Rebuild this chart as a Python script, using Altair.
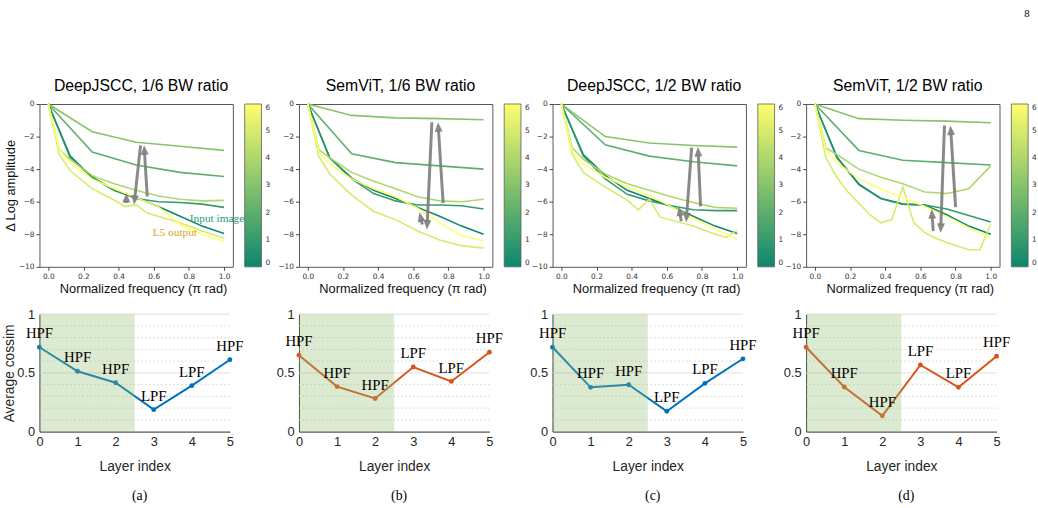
import math

import altair as alt
import pandas as pd

# ---------------------------------------------------------------------------
# Δ log-amplitude spectra: one curve per layer (0 = input image ... 6 = last)
# ---------------------------------------------------------------------------
F_SPARSE = [0, 0.25, 0.5, 0.75, 1.0]
F_COARSE = [0, 0.125, 0.25, 0.375, 0.5, 0.625, 0.75, 0.875, 1.0]
F_FINE = [0, 0.0625, 0.125, 0.25, 0.375, 0.5, 0.625, 0.75, 0.875, 1.0]

# (a) DeepJSCC, 1/6 BW ratio
A0 = [0, -3.2, -4.5, -5.3, -5.75, -6.3, -6.9, -7.5, -7.95]
A1 = [0, -3.3, -4.5, -5.3, -5.8, -6.0, -6.05, -6.15, -6.35]
A2 = [0, -2.95, -3.75, -4.2, -4.45]
A3 = [0, -1.7, -2.35, -2.6, -2.85]
A4 = [0, -2.8, -3.4, -4.4, -4.9, -5.3, -5.65, -5.85, -5.95, -5.92]
A5_F = [0, 0.0625, 0.125, 0.25, 0.375, 0.4375, 0.5, 0.5625, 0.625, 0.75, 0.875, 1.0]
A5 = [0, -3.1, -4.1, -5.2, -5.9, -6.3, -6.2, -6.7, -6.9, -7.3, -7.8, -8.25]
A6 = [0, -2.8, -3.6, -4.6, -5.2, -5.75, -6.3, -7.4, -8.0, -8.45]

# (b) SemViT, 1/6 BW ratio
B0 = [0, -3.3, -4.55, -5.3, -5.8, -6.35, -6.9, -7.5, -8.0]
B1 = [0, -3.3, -4.6, -5.5, -5.95, -6.2, -6.2, -6.25, -6.45]
B2 = [0, -3.05, -3.6, -3.8, -4.0]
B3 = [0, -0.7, -0.85, -0.9, -0.97]
B4 = [0, -2.8, -3.3, -4.2, -4.75, -5.2, -5.7, -5.95, -6.0, -5.85]
B5 = [0, -3.2, -4.3, -5.6, -6.6, -7.1, -7.8, -8.35, -8.7, -8.85]
B6 = [0, -2.9, -3.7, -4.6, -5.2, -5.7, -6.4, -7.3, -8.1, -8.4]

# (c) DeepJSCC, 1/2 BW ratio
C0 = [0, -3.1, -4.4, -5.3, -5.8, -6.3, -6.9, -7.5, -7.95]
C1 = [0, -3.2, -4.6, -5.55, -5.95, -6.25, -6.5, -6.55, -6.55]
C2 = [0, -2.5, -3.2, -3.55, -3.8]
C3 = [0, -2.0, -2.4, -2.55, -2.65]
C4 = [0, -2.7, -3.4, -4.3, -4.9, -5.3, -5.7, -6.05, -6.35, -6.4]
C5_F = [0, 0.0625, 0.125, 0.25, 0.375, 0.4375, 0.5, 0.5625, 0.75, 0.875, 0.9375, 1.0]
C5 = [0, -3.1, -4.2, -5.1, -5.9, -6.5, -5.85, -6.95, -7.5, -8.0, -8.2, -7.75]
C6 = [0, -2.9, -3.7, -4.5, -5.1, -5.6, -6.3, -7.0, -7.7, -8.3]

# (d) SemViT, 1/2 BW ratio
D0 = [0, -3.25, -4.95, -5.8, -6.15, -6.2, -6.8, -7.5, -8.0]
D1 = [0, -3.3, -4.9, -5.8, -6.15, -6.2, -6.45, -6.85, -7.25]
D2 = [0, -2.85, -3.45, -3.6, -3.75]
D3 = [0, -0.9, -1.0, -1.05, -1.15]
D4 = [0, -2.7, -3.1, -4.0, -4.5, -4.9, -5.4, -5.5, -5.2, -3.8]
D5_F = [0, 0.0625, 0.125, 0.1875, 0.25, 0.3125, 0.375, 0.4375, 0.5,
        0.5625, 0.625, 0.6875, 0.75, 0.875, 0.9375, 1.0]
D5 = [0, -3.3, -4.5, -5.4, -6.1, -6.8, -7.3, -7.1, -5.1,
      -7.3, -7.9, -8.25, -8.5, -8.95, -8.95, -7.4]
D6 = [0, -2.8, -3.6, -4.6, -5.2, -5.75, -6.3, -6.9, -7.6, -8.25]

# Gray arrows: (tail freq, tail value, tip freq, tip value)
ARROWS_A = [(0.444, -6.08, 0.444, -5.47), (0.525, -2.54, 0.488, -6.19), (0.563, -5.68, 0.545, -2.54)]
ARROWS_B = [(0.652, -7.40, 0.635, -6.65), (0.706, -1.12, 0.678, -7.71), (0.770, -6.09, 0.741, -1.12)]
ARROWS_C = [(0.682, -7.20, 0.669, -6.29), (0.741, -2.68, 0.710, -7.26), (0.792, -6.29, 0.777, -2.64)]
ARROWS_D = [(0.673, -7.81, 0.664, -6.45), (0.737, -1.32, 0.715, -7.91), (0.800, -6.33, 0.771, -1.32)]

# In-plot annotations of panel (a): (text, freq, value, colour)
NOTES_A = [("Input image", 0.96, -7.04, "#2a9a72"), ("L5 output", 0.72, -7.95, "#d9a41e")]

TITLES = ["DeepJSCC, 1/6 BW ratio", "SemViT, 1/6 BW ratio",
          "DeepJSCC, 1/2 BW ratio", "SemViT, 1/2 BW ratio"]
X_TICKS = [0, 0.2, 0.4, 0.6, 0.8, 1.0]
Y_TICKS = [-10, -8, -6, -4, -2, 0]
COLORBAR_TICKS = [0, 1, 2, 3, 4, 5, 6]

# ---------------------------------------------------------------------------
# Average cosine similarity per layer
# ---------------------------------------------------------------------------
LAYERS = [0, 1, 2, 3, 4, 5]
COS_A = [0.718, 0.514, 0.416, 0.187, 0.391, 0.612]
COS_B = [0.651, 0.383, 0.282, 0.550, 0.427, 0.676]
COS_C = [0.718, 0.377, 0.399, 0.173, 0.411, 0.620]
COS_D = [0.718, 0.380, 0.134, 0.567, 0.377, 0.642]
TAGS = ["HPF", "HPF", "HPF", "LPF", "LPF", "HPF"]
CAPTIONS = ["(a)", "(b)", "(c)", "(d)"]
BLUE, ORANGE = "#0072BD", "#D95319"
LINE_COLORS = [BLUE, ORANGE, BLUE, ORANGE]
SHADE_SPAN = [0, 2.5]
MAJOR_GRID = [0.5, 1.0]
MINOR_GRID = [0.1, 0.2, 0.3, 0.4, 0.6, 0.7, 0.8, 0.9]
COS_TICKS = [0, 0.5, 1]

# ---------------------------------------------------------------------------
TOP_W, TOP_H = 196, 165
BOT_W, BOT_H = 193, 119
X_DOM = [-0.05, 1.05]
Y_DOM = [-10, 0]
SANS = "Liberation Sans"
SERIF = "Liberation Serif"
ARROW_GRAY = "#7c7c7c"
HEAD_PATH = "M0,0L-1,2.4L1,2.4Z"
HEAD_SIZE = 64

SUMMER = alt.Scale(domain=[0, 6], range=["#008066", "#ffff66"], interpolate="rgb")


def top_x(field):
    axis = alt.Axis(values=X_TICKS, format=".1f", title="Normalized frequency (π rad)",
                    grid=False, domain=False, tickSize=3.5, tickColor="#444",
                    labelFont="DejaVu Sans", labelFontSize=7.5, labelColor="#333",
                    labelPadding=2, labelFlush=False, labelOverlap=False,
                    titleFont=SANS, titleFontSize=13, titleFontWeight="normal",
                    titleColor="#111", titlePadding=3, titleX=TOP_W / 2 + 7)
    return alt.X(field, type="quantitative",
                 scale=alt.Scale(domain=X_DOM, nice=False, zero=False), axis=axis)


def top_y(field, y_title):
    axis = alt.Axis(values=Y_TICKS, format="d", title=y_title, grid=False, domain=False,
                    tickSize=3.5, tickColor="#444", labelFont="DejaVu Sans",
                    labelFontSize=7.5, labelColor="#333", labelPadding=2, labelFlush=False,
                    labelOverlap=False, titleFont=SANS, titleFontSize=13,
                    titleFontWeight="normal", titleColor="#111", titlePadding=1)
    return alt.Y(field, type="quantitative",
                 scale=alt.Scale(domain=Y_DOM, nice=False, zero=False), axis=axis)


def bottom_x(field):
    axis = alt.Axis(values=LAYERS, format="d", title="Layer index", grid=False,
                    domainColor="#262626", tickSize=0, labelPadding=4,
                    labelFont=SANS, labelFontSize=13, labelColor="#262626",
                    labelFlush=False, labelOverlap=False, titleFont=SANS,
                    titleFontSize=14, titleFontWeight="normal",
                    titleColor="#262626", titlePadding=11)
    return alt.X(field, type="quantitative",
                 scale=alt.Scale(domain=[0, 5], nice=False, zero=False), axis=axis)


def bottom_y(field, y_title):
    axis = alt.Axis(values=COS_TICKS, format="~g", title=y_title, grid=False,
                    domainColor="#262626", tickSize=0, labelPadding=5, labelFont=SANS,
                    labelFontSize=13, labelColor="#262626", labelFlush=False,
                    labelOverlap=False, titleFont=SANS, titleFontSize=14,
                    titleFontWeight="normal", titleColor="#262626", titlePadding=0)
    return alt.Y(field, type="quantitative",
                 scale=alt.Scale(domain=[0, 1], nice=False, zero=False), axis=axis)


def arrow_table(arrows):
    """Shaft end points and head rotation for each arrow, in data units."""
    px_x = TOP_W / (X_DOM[1] - X_DOM[0])
    px_y = TOP_H / (Y_DOM[1] - Y_DOM[0])
    head_len = math.sqrt(HEAD_SIZE) / 2 * 2.0
    rows = []
    for x0, y0, x1, y1 in arrows:
        dx = (x1 - x0) * px_x
        dy = -(y1 - y0) * px_y
        length = math.hypot(dx, dy)
        ux, uy = dx / length, dy / length
        rows.append({
            "x0": x0, "y0": y0,
            "xs": x1 - ux * head_len / px_x, "ys": y1 + uy * head_len / px_y,
            "xt": x1, "yt": y1,
            "angle": math.degrees(math.atan2(dx, -dy)) % 360,
        })
    return pd.DataFrame(rows)


def spectrum_panel(title, curves, arrows, y_title, notes):
    rows = []
    for layer, (freqs, vals) in curves.items():
        for f, v in zip(freqs, vals):
            rows.append({"layer": layer, "freq": f, "amp": v})
    spec = pd.DataFrame(rows)

    legend = alt.Legend(title=None, values=COLORBAR_TICKS, orient="right", direction="vertical",
                        gradientLength=TOP_H, gradientThickness=17, offset=12, padding=0,
                        labelFont="DejaVu Sans", labelFontSize=7.5, labelColor="#333",
                        labelOverlap=False, labelOffset=4, gradientStrokeColor="#555",
                        gradientStrokeWidth=0.8)
    lines = alt.Chart(spec).mark_line(strokeWidth=1.6, opacity=0.95).encode(
        x=top_x("freq"), y=top_y("amp", y_title),
        color=alt.Color("layer:Q", scale=SUMMER, legend=legend),
        detail="layer:N",
        order=alt.Order("freq:Q"),
    )

    arr = arrow_table(arrows)
    shafts = alt.Chart(arr).mark_rule(color=ARROW_GRAY, strokeWidth=3, opacity=0.9).encode(
        x=top_x("x0"), y=top_y("y0", y_title), x2="xs", y2="ys")
    heads = alt.Chart(arr).mark_point(shape=HEAD_PATH, size=HEAD_SIZE, filled=True,
                                      color=ARROW_GRAY, opacity=0.9, strokeWidth=0).encode(
        x=top_x("xt"), y=top_y("yt", y_title), angle=alt.Angle("angle:Q", scale=None))

    layers = [lines, shafts, heads]
    for text, f, v, col in notes:
        note = pd.DataFrame({"freq": [f], "amp": [v], "label": [text]})
        layers.append(alt.Chart(note).mark_text(font=SERIF, fontSize=11.5, color=col).encode(
            x=top_x("freq"), y=top_y("amp", y_title), text="label:N"))

    return alt.layer(*layers).properties(
        width=TOP_W, height=TOP_H,
        title=alt.TitleParams(title, font=SANS, fontSize=16, fontWeight="normal",
                              color="#000", offset=6, dx=5),
        view=alt.ViewBackground(stroke="#555", strokeWidth=1),
    )


def cossim_panel(values, color, caption, y_title):
    df = pd.DataFrame({"layer": LAYERS, "cossim": values, "tag": TAGS})
    x = bottom_x("layer")
    y = bottom_y("cossim", y_title)

    minor = alt.Chart(pd.DataFrame({"g": MINOR_GRID})).mark_rule(
        color="#c9c9c9", strokeWidth=0.8, strokeDash=[1.5, 2.5]).encode(
        y=bottom_y("g", y_title))
    major = alt.Chart(pd.DataFrame({"g": MAJOR_GRID})).mark_rule(
        color="#dedede", strokeWidth=1).encode(y=bottom_y("g", y_title))
    line = alt.Chart(df).mark_line(
        color=color, strokeWidth=2,
        point=alt.OverlayMarkDef(filled=True, size=24, color=color)).encode(x=x, y=y)
    shade = alt.Chart(pd.DataFrame({"a": [SHADE_SPAN[0]], "b": [SHADE_SPAN[1]],
                                    "lo": [0], "hi": [1]})).mark_rect(
        color="#8fbf6f", opacity=0.32).encode(
        x=bottom_x("a"), x2="b", y=bottom_y("lo", y_title), y2="hi")
    tags = alt.Chart(df).mark_text(font=SERIF, fontSize=15, dy=-9, baseline="alphabetic",
                                   color="#000").encode(x=x, y=y, text="tag:N")

    return alt.layer(minor, major, line, shade, tags).properties(
        width=BOT_W, height=BOT_H,
        title=alt.TitleParams(caption, orient="bottom", font=SERIF, fontSize=14,
                              fontWeight="normal", color="#000", offset=16, dx=5),
        view=alt.ViewBackground(strokeWidth=0),
    )


CURVES = [
    {0: (F_COARSE, A0), 1: (F_COARSE, A1), 2: (F_SPARSE, A2), 3: (F_SPARSE, A3),
     4: (F_FINE, A4), 5: (A5_F, A5), 6: (F_FINE, A6)},
    {0: (F_COARSE, B0), 1: (F_COARSE, B1), 2: (F_SPARSE, B2), 3: (F_SPARSE, B3),
     4: (F_FINE, B4), 5: (F_FINE, B5), 6: (F_FINE, B6)},
    {0: (F_COARSE, C0), 1: (F_COARSE, C1), 2: (F_SPARSE, C2), 3: (F_SPARSE, C3),
     4: (F_FINE, C4), 5: (C5_F, C5), 6: (F_FINE, C6)},
    {0: (F_COARSE, D0), 1: (F_COARSE, D1), 2: (F_SPARSE, D2), 3: (F_SPARSE, D3),
     4: (F_FINE, D4), 5: (D5_F, D5), 6: (F_FINE, D6)},
]
ARROWS = [ARROWS_A, ARROWS_B, ARROWS_C, ARROWS_D]
COSSIM = [COS_A, COS_B, COS_C, COS_D]

columns = []
for i in range(4):
    first = i == 0
    top = spectrum_panel(TITLES[i], CURVES[i], ARROWS[i],
                         "Δ Log amplitude" if first else None, NOTES_A if first else [])
    bottom = cossim_panel(COSSIM[i], LINE_COLORS[i], CAPTIONS[i],
                          "Average cossim" if first else None)
    col = alt.vconcat(top, bottom, spacing=12).resolve_scale(
        color="independent").resolve_legend(color="independent")
    columns.append(col)

rest = alt.hconcat(*columns[1:], spacing=-2).resolve_scale(
    color="independent").resolve_legend(color="independent")

chart = alt.hconcat(columns[0], rest, spacing=4).resolve_scale(
    color="independent").resolve_legend(color="independent").properties(
    title=alt.TitleParams("8", anchor="end", font=SERIF, fontSize=11, fontWeight="normal",
                          color="#000", offset=60, dx=-8),
    padding={"left": 2, "top": 4, "right": 0, "bottom": 0},
).configure(font=SANS).configure_view(strokeWidth=0)

chart.save("out.html", embed_options={"renderer": "svg", "actions": False})
